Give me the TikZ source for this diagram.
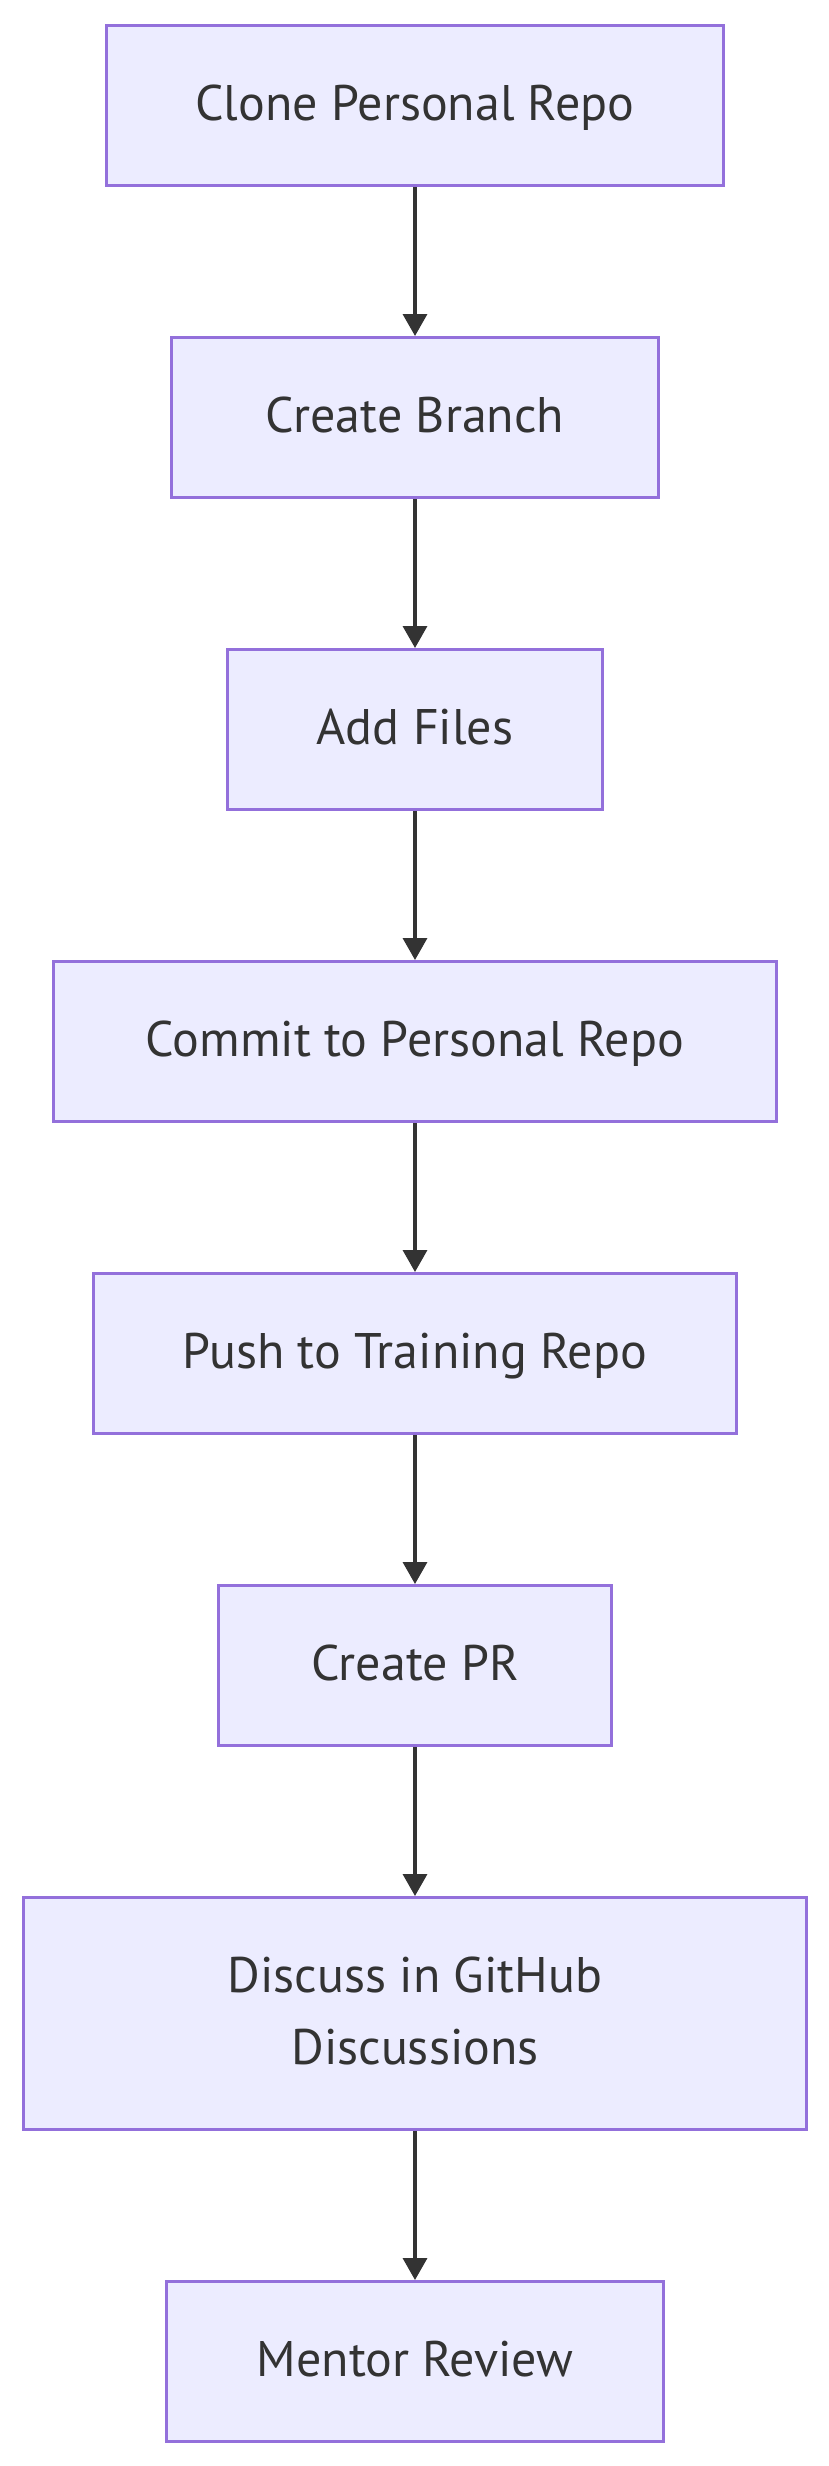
\documentclass[tikz,border=0pt]{standalone}
\usepackage{fontspec}
\setmainfont{PT Sans}
\usetikzlibrary{arrows.meta}
\definecolor{boxfill}{HTML}{ECECFF}
\definecolor{boxline}{HTML}{9370DB}
\definecolor{ink}{HTML}{333333}
\begin{document}
\begin{tikzpicture}[x=1pt,y=-1pt,
  flowbox/.style={draw=boxline, fill=boxfill, line width=3pt, rectangle,
    inner sep=0pt, minimum height=160pt, text=ink,
    font=\fontsize{50}{72}\selectfont, text height=40pt, text depth=11pt,
    align=center},
  flowarrow/.style={draw=ink, line width=3.5pt,
    -{Triangle[length=22pt,width=24pt]}}]
\path[use as bounding box, fill=white] (0,0) rectangle (828,2466);
\node[flowbox, minimum width=617pt] (b1) at (415,105.5) {Clone Personal Repo};
\node[flowbox, minimum width=487pt] (b2) at (415,417.5) {Create Branch};
\node[flowbox, minimum width=375pt] (b3) at (415,729.5) {Add Files};
\node[flowbox, minimum width=723pt] (b4) at (415,1041.5) {Commit to Personal Repo};
\node[flowbox, minimum width=643pt] (b5) at (415,1353.5) {Push to Training Repo};
\node[flowbox, minimum width=393pt] (b6) at (415,1665.5) {Create PR};
\node[flowbox, minimum width=783pt, minimum height=232pt, text height=112pt] (b7) at (415,2013.5) {Discuss in GitHub\\Discussions};
\node[flowbox, minimum width=497pt] (b8) at (415,2361.5) {Mentor Review};
\draw[flowarrow] (b1) -- (b2);
\draw[flowarrow] (b2) -- (b3);
\draw[flowarrow] (b3) -- (b4);
\draw[flowarrow] (b4) -- (b5);
\draw[flowarrow] (b5) -- (b6);
\draw[flowarrow] (b6) -- (b7);
\draw[flowarrow] (b7) -- (b8);
\end{tikzpicture}
\end{document}
